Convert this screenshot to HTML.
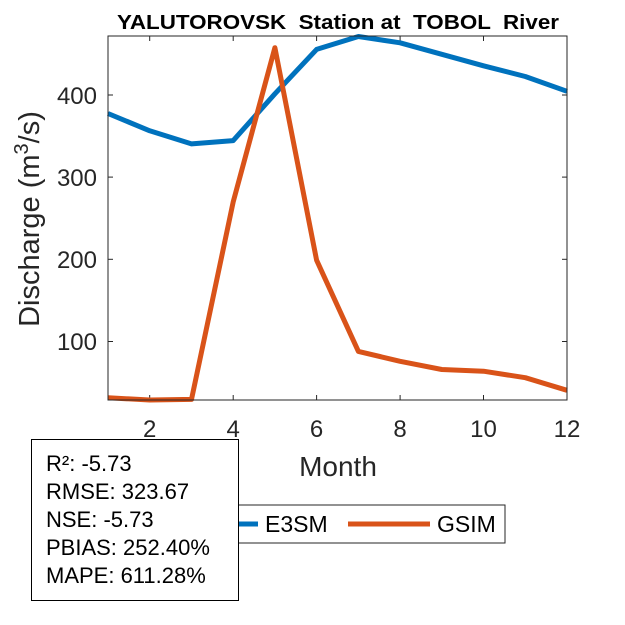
<!DOCTYPE html>
<html><head><meta charset="utf-8"><style>body{margin:0;background:#fff}svg{display:block}text{font-family:"Liberation Sans",Arial,sans-serif;white-space:pre}</style></head><body>
<svg width="625" height="625" xmlns="http://www.w3.org/2000/svg">
<rect width="625" height="625" fill="#fff"/>
<text x="117" y="29" font-size="20" font-weight="bold" fill="#000" textLength="442" lengthAdjust="spacingAndGlyphs" xml:space="preserve">YALUTOROVSK  Station at  TOBOL  River</text>
<g stroke="#262626" stroke-width="1">
<line x1="149.7" y1="400" x2="149.7" y2="395"/><line x1="233.2" y1="400" x2="233.2" y2="395"/><line x1="316.6" y1="400" x2="316.6" y2="395"/><line x1="400.1" y1="400" x2="400.1" y2="395"/><line x1="483.5" y1="400" x2="483.5" y2="395"/>
<line x1="149.7" y1="36" x2="149.7" y2="41"/><line x1="233.2" y1="36" x2="233.2" y2="41"/><line x1="316.6" y1="36" x2="316.6" y2="41"/><line x1="400.1" y1="36" x2="400.1" y2="41"/><line x1="483.5" y1="36" x2="483.5" y2="41"/>
<line x1="108" y1="95" x2="113" y2="95"/><line x1="108" y1="177.1" x2="113" y2="177.1"/><line x1="108" y1="259.3" x2="113" y2="259.3"/><line x1="108" y1="341.5" x2="113" y2="341.5"/>
<line x1="567" y1="95" x2="562" y2="95"/><line x1="567" y1="177.1" x2="562" y2="177.1"/><line x1="567" y1="259.3" x2="562" y2="259.3"/><line x1="567" y1="341.5" x2="562" y2="341.5"/>
</g>
<g font-size="24" fill="#262626" text-anchor="middle">
<text x="149.7" y="437">2</text><text x="233.2" y="437">4</text><text x="316.6" y="437">6</text><text x="400.1" y="437">8</text><text x="483.5" y="437">10</text><text x="567" y="437">12</text>
</g>
<g font-size="24" fill="#262626" text-anchor="end">
<text x="97" y="104">400</text><text x="97" y="186">300</text><text x="97" y="268">200</text><text x="97" y="350">100</text>
</g>
<text x="338" y="476" text-anchor="middle" font-size="28" fill="#262626">Month</text>
<text transform="translate(39,219) rotate(-90)" text-anchor="middle" font-size="29" fill="#262626">Discharge (m<tspan dy="-11" font-size="20">3</tspan><tspan dy="11">/s)</tspan></text>
<polyline fill="none" stroke="#0072BD" stroke-width="5" stroke-linejoin="round" points="108,113.5 149.7,130.8 191.5,143.9 233.2,140.6 274.9,93.8 316.6,49.4 358.4,36.5 400.1,42.8 441.8,54.3 483.5,65.8 525.3,76.5 567,91.3"/>
<polyline fill="none" stroke="#D95319" stroke-width="5" stroke-linejoin="round" points="108,397.8 149.7,400 191.5,399.4 233.2,201.9 274.9,47.7 316.6,260.2 358.4,351.4 400.1,361.3 441.8,369.5 483.5,371.2 525.3,377.7 567,390.3"/>
<rect x="108" y="36" width="459" height="364" fill="none" stroke="#262626" stroke-width="1"/>
<rect x="190" y="505" width="315" height="38" fill="#fff" stroke="#262626" stroke-width="1"/>
<line x1="195" y1="524" x2="258" y2="524" stroke="#0072BD" stroke-width="5"/>
<text x="265" y="532" font-size="23" fill="#000">E3SM</text>
<line x1="348" y1="524" x2="430" y2="524" stroke="#D95319" stroke-width="5"/>
<text x="437" y="532" font-size="23" fill="#000">GSIM</text>
<rect x="31.5" y="439.5" width="207" height="161" fill="#fff" stroke="#000" stroke-width="1"/>
<g font-size="22" fill="#000">
<text x="46" y="471">R²: -5.73</text><text x="46" y="499">RMSE: 323.67</text><text x="46" y="527">NSE: -5.73</text><text x="46" y="555">PBIAS: 252.40%</text><text x="46" y="583">MAPE: 611.28%</text>
</g>
</svg>
</body></html>
